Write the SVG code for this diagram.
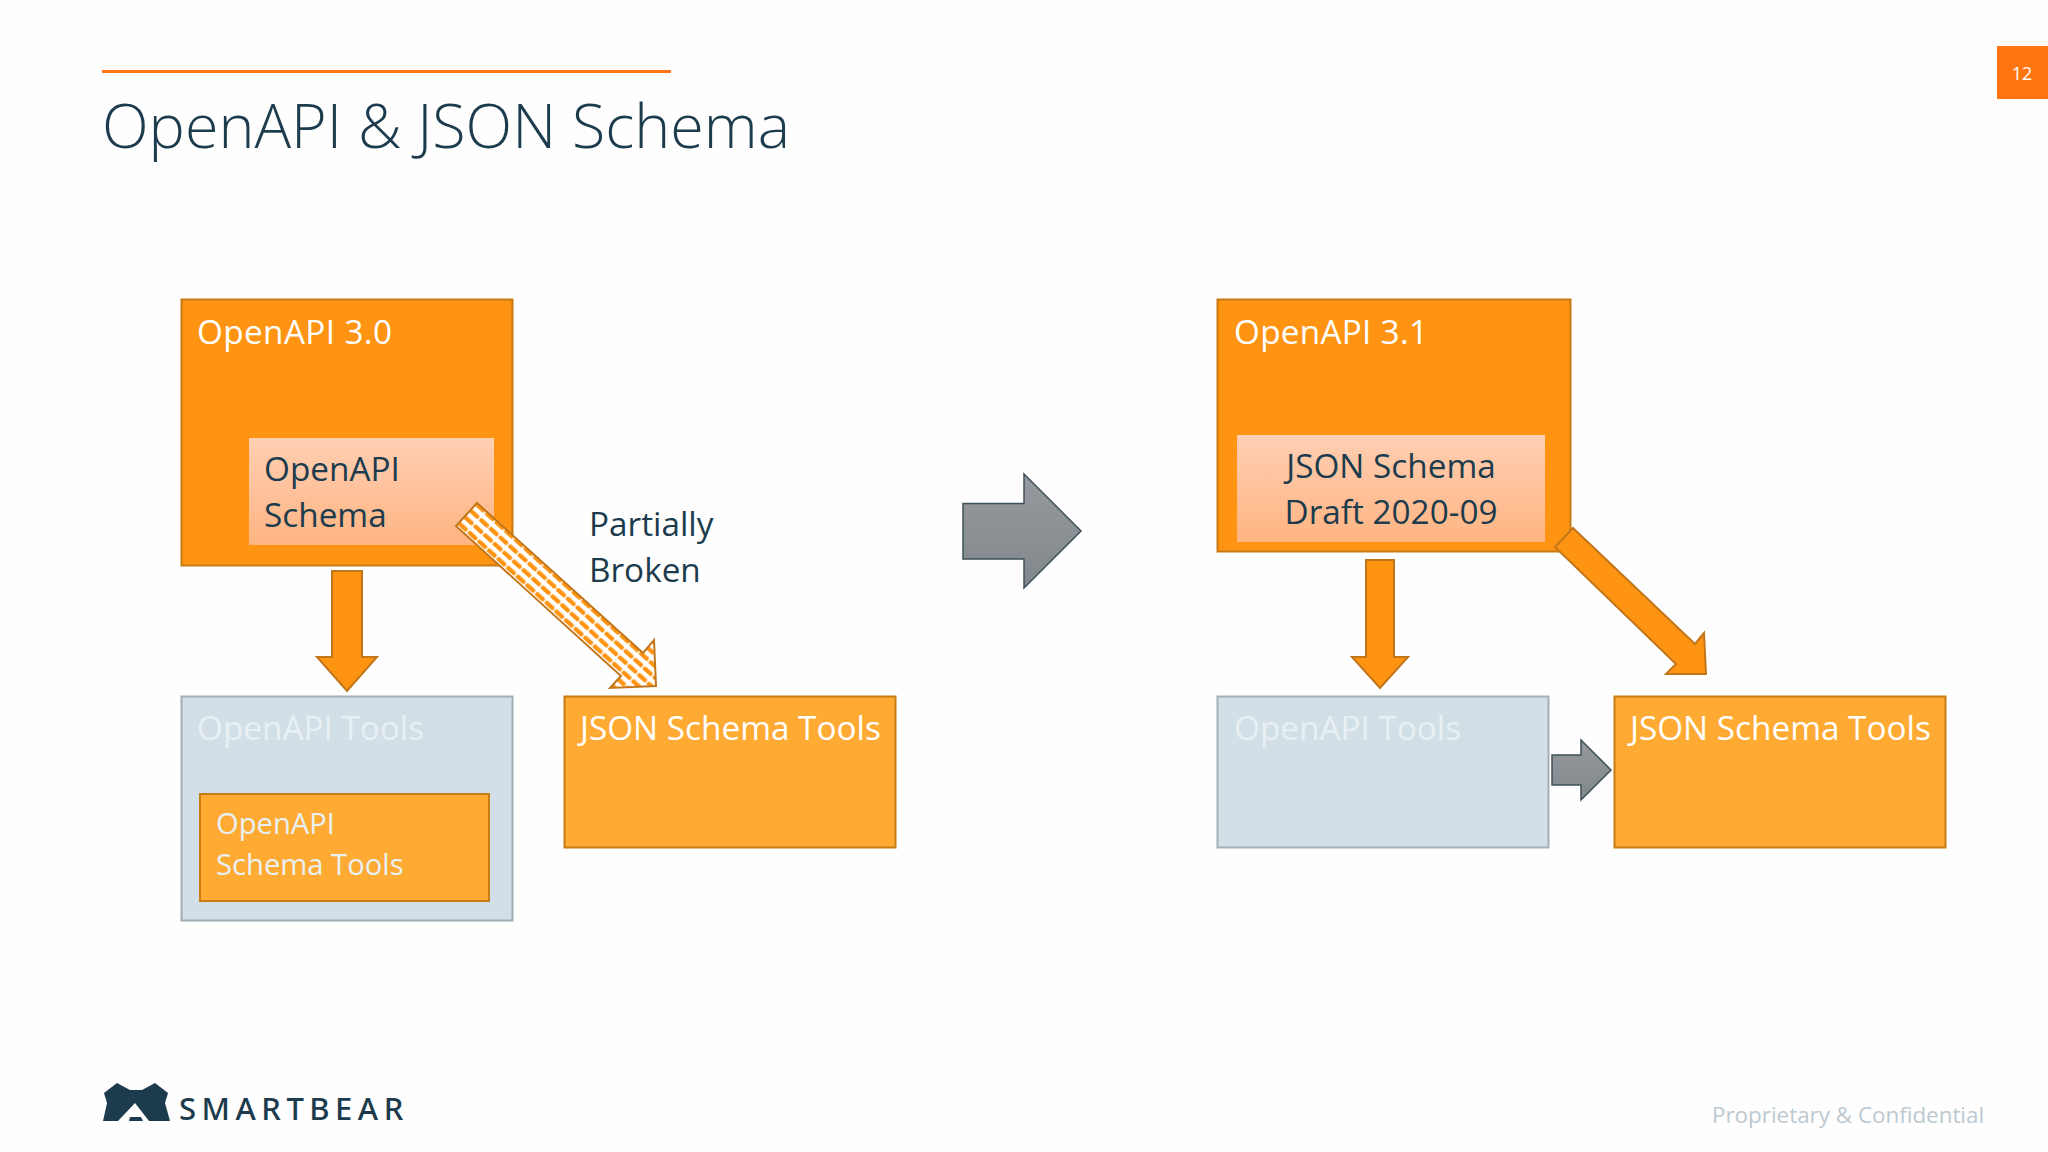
<svg xmlns="http://www.w3.org/2000/svg" width="2048" height="1152" viewBox="0 0 2048 1152">
<style>
text{font-family:"Open Sans","Noto Sans","DejaVu Sans",sans-serif}
.big{font-size:33.300px}
.w{fill:#ffffff}
.d{fill:#1c3b4d}
.pale{fill:#e9f0f4}
.orange{fill:#ff9412;stroke:#c77a14;stroke-width:2}
.tool{fill:#ffab33;stroke:#c77d12;stroke-width:2}
.blue{fill:#d2dfe6;stroke:#a2adb4;stroke-width:2}
.arrow{fill:#ff9412;stroke:#c2761a;stroke-width:2;stroke-linejoin:miter}
.grey{fill:url(#greyGrad);stroke:#3f5058;stroke-width:1.500}
</style>
<defs>
<linearGradient id="peach" x1="0" y1="0" x2="0" y2="1"><stop offset="0" stop-color="#ffcfb3"/><stop offset="1" stop-color="#ffb482"/></linearGradient>
<linearGradient id="greyGrad" x1="0" y1="0" x2="0" y2="1"><stop offset="0" stop-color="#969a9e"/><stop offset="1" stop-color="#81878b"/></linearGradient>
<pattern id="dash" patternUnits="userSpaceOnUse" width="13" height="8.600" patternTransform="translate(456 526) rotate(42.2)">
<rect width="13" height="8.600" fill="#ffffff"/><rect x="0" y="2.300" width="11.500" height="4.400" rx="1.500" fill="#ff9412"/>
</pattern>
</defs>
<rect width="2048" height="1152" fill="#fefefe"/>
<rect x="102" y="70" width="569" height="3" fill="#ff7415"/>
<text x="102" y="147.500" class="d" font-size="60" font-weight="300" textLength="688" lengthAdjust="spacingAndGlyphs">OpenAPI &amp; JSON Schema</text>
<rect x="1997" y="46" width="51" height="53" fill="#ff7610"/>
<text x="2022" y="79.500" class="w" font-size="18" text-anchor="middle">12</text>

<g id="node-openapi30">
<rect class="orange" x="181.500" y="299.500" width="331" height="266"/>
<text class="w big" x="197" y="343.500" textLength="195">OpenAPI 3.0</text>
</g>
<g id="node-openapi-schema">
<rect x="249" y="438" width="245" height="107" fill="url(#peach)"/>
<text class="d big" x="264" y="481">OpenAPI</text>
<text class="d big" x="264" y="527">Schema</text>
</g>
<g id="node-openapi-tools-left">
<rect class="blue" x="181.500" y="696.500" width="331" height="224"/>
<text class="pale big" x="197" y="740">OpenAPI Tools</text>
</g>
<g id="node-schema-tools-inner">
<rect class="tool" x="200" y="794" width="289" height="107"/>
<text class="pale" font-size="29.200" x="216" y="834">OpenAPI</text>
<text class="pale" font-size="29.200" x="216" y="875">Schema Tools</text>
</g>
<g id="node-json-tools-left">
<rect class="tool" x="564.500" y="696.500" width="331" height="151"/>
<text class="w big" x="580" y="740">JSON Schema Tools</text>
</g>
<g id="node-openapi31">
<rect class="orange" x="1217.500" y="299.500" width="353" height="252"/>
<text class="w big" x="1234" y="343.500" textLength="194">OpenAPI 3.1</text>
</g>
<g id="node-json-schema-draft">
<rect x="1237" y="435" width="308" height="107" fill="url(#peach)"/>
<text class="d big" x="1391" y="478" text-anchor="middle">JSON Schema</text>
<text class="d big" x="1391" y="524" text-anchor="middle">Draft 2020-09</text>
</g>
<g id="node-openapi-tools-right">
<rect class="blue" x="1217.500" y="696.500" width="331" height="151"/>
<text class="pale big" x="1234" y="740">OpenAPI Tools</text>
</g>
<g id="node-json-tools-right">
<rect class="tool" x="1614.500" y="696.500" width="331" height="151"/>
<text class="w big" x="1630" y="740">JSON Schema Tools</text>
</g>
<g id="node-partially-broken">
<text class="d big" x="589" y="535.500">Partially</text>
<text class="d big" x="589" y="581.500">Broken</text>
</g>

<g id="connectors">
<polygon class="arrow" points="332,571 362,571 362,657 377,657 347,691 317,657 332,657"/>
<polygon points="477,503 643,653 654,640 656,686 610,688 621,676 456,526" fill="url(#dash)" stroke="#c2761a" stroke-width="2"/>
<polygon class="arrow" points="1366,560 1394,560 1394,657 1408,657 1380,688 1352,657 1366,657"/>
<polygon class="arrow" points="1573,528 1695,644 1704,633 1706,674 1666,674 1676,664 1555,547"/>
<polygon class="grey" points="963,503.500 1024,503.500 1024,474 1081,531 1024,588 1024,559 963,559"/>
<polygon class="grey" points="1552,755 1581,755 1581,740 1611,770 1581,800 1581,785 1552,785"/>
</g>

<g id="logo">
<path fill="#1c3b4d" d="M104,1093 L117,1083 L130,1090 L142,1090 L155,1083 L168,1093 L165,1103 L170,1121 L149,1121 L135,1103 L118,1121 L103,1121 L107,1103 Z"/>
<path fill="#1c3b4d" d="M130,1117 L141,1117 L143,1121 L129,1121 Z"/>
<text x="179" y="1120" class="d" font-size="31" font-weight="500" letter-spacing="5.500" style="font-family:'Noto Sans','Open Sans',sans-serif">SMARTBEAR</text>
</g>
<text x="1712" y="1122.500" font-size="22.400" fill="#bcc9d1">Proprietary &amp; Confidential</text>
</svg>
